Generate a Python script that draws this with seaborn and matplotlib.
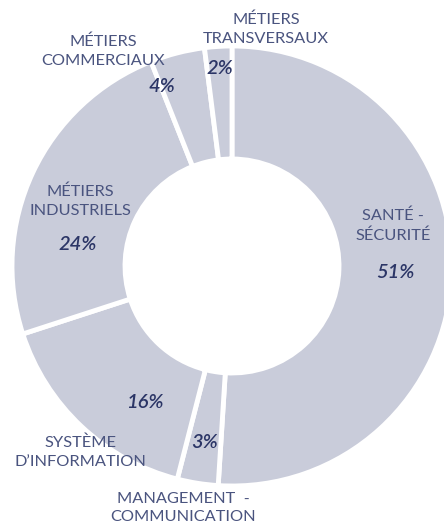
import matplotlib
matplotlib.use("Agg")
import matplotlib.pyplot as plt
import seaborn as sns

# Répartition des formations par domaine (sens horaire depuis midi)
categories = [
    "SANTÉ -\nSÉCURITÉ",
    "MANAGEMENT  -\nCOMMUNICATION",
    "SYSTÈME\nD’INFORMATION",
    "MÉTIERS\nINDUSTRIELS",
    "MÉTIERS\nCOMMERCIAUX",
    "MÉTIERS\nTRANSVERSAUX",
]
shares = [51, 3, 16, 24, 4, 2]
pct_labels = [f"{v}%" for v in shares]

sns.set_theme(style="white")
plt.rcParams["font.family"] = ["Lato", "DejaVu Sans"]

W, H = 444, 530
fig = plt.figure(figsize=(W / 100, H / 100), dpi=100)
ax = fig.add_axes([0, 0, 1, 1])

wedge_color = "#c9ccda"
label_color = "#4a547f"
pct_color = "#2b3566"

cx, cy = 232, 266
r_out, r_in = 220, 107

# y inversé : le sens antihoraire des données devient horaire à l'écran
ax.pie(
    shares,
    center=(cx, cy),
    radius=r_out,
    startangle=-90,
    counterclock=True,
    colors=[wedge_color] * len(shares),
    wedgeprops=dict(width=r_out - r_in, edgecolor="white", linewidth=3.5),
    frame=True,
)
ax.set_xlim(0, W)
ax.set_ylim(H, 0)
ax.set_aspect("equal")
ax.axis("off")

# Emplacements des étiquettes (pixels)
name_pos = [(393, 226), (183, 508), (80, 452), (80, 201), (103, 51), (266, 29)]
pct_pos = [(395, 272), (205, 443), (145, 402), (78, 245), (162, 87), (220, 68)]

for name, (x, y) in zip(categories, name_pos):
    ax.text(x, y, name, ha="center", va="center", fontsize=11.8,
            fontweight="normal", color=label_color, linespacing=1.45)

for pct, (x, y) in zip(pct_labels, pct_pos):
    ax.text(x, y, pct, ha="center", va="center", fontsize=14.5,
            fontweight="semibold", fontstyle="italic", color=pct_color)

fig.savefig("out.png", dpi=100, facecolor="white")
